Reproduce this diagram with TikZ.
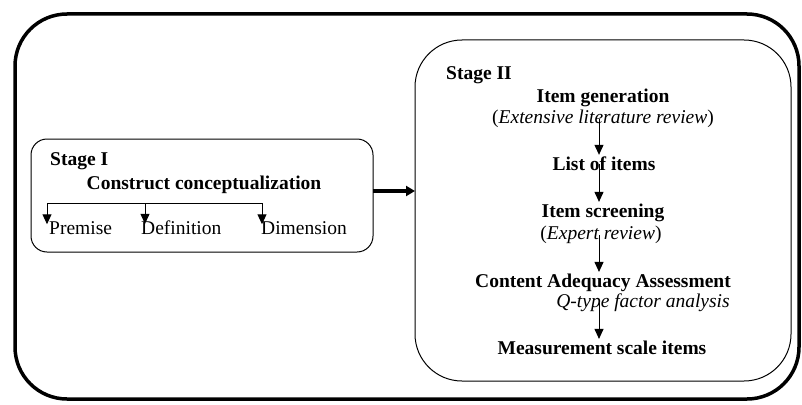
\documentclass[tikz,border=0pt]{standalone}
\usepackage{fontspec}
\setmainfont{Liberation Serif}
\usetikzlibrary{arrows.meta}

\tikzset{
  txt/.style={inner sep=0pt, font=\fontsize{19.5}{22}\selectfont},
  hd/.style={txt, font=\fontsize{19.5}{22}\selectfont\bfseries},
  sub/.style={txt, font=\fontsize{19.5}{22}\selectfont\itshape},
  flow/.style={line width=1pt, -{Triangle[width=9pt,length=10pt]}},
}

\begin{document}
\begin{tikzpicture}[x=1pt, y=-1pt]
\useasboundingbox (0,0) rectangle (802,404);
% frames
\draw[line width=3.5pt, rounded corners=52pt] (15,14) rectangle (799,399); % outer
\draw[line width=1pt, rounded corners=16pt] (31,139) rectangle (373,252); % stage one
\draw[line width=1pt, rounded corners=47pt] (415,40) rectangle (791,381); % stage two

% Stage I
\node[hd, anchor=west] (stageA) at (50,161) {Stage I};
\node[hd] (concept) at (204,185) {Construct conceptualization};
\node[txt, anchor=west] (premise) at (49,228) {Premise};
\node[txt, anchor=west] (defin) at (141,228) {Definition};
\node[txt, anchor=west] (dimen) at (261,228) {Dimension};
\coordinate (tipA) at ([xshift=-2pt,yshift=-3pt]premise.north west);
\coordinate (tipB) at ([xshift=4pt,yshift=-3pt]defin.north west);
\coordinate (tipC) at ([xshift=1pt,yshift=-3pt]dimen.north west);
\coordinate (brk) at (47,203);
\draw[line width=1pt] (brk) -- (brk -| tipC);
\draw[flow] (brk -| tipA) -- (tipA);
\draw[flow] (brk -| tipB) -- (tipB);
\draw[flow] (brk -| tipC) -- (tipC);

% Stage II
\node[hd, anchor=west] (stageB) at (446,75) {Stage II};
\node[hd] (gen) at (603,98) {Item generation};
\node[txt] (genSub) at (603,119) {(\textit{Extensive literature review})};
\node[hd] (list) at (604,164) {List of items};
\node[hd] (screen) at (603,213) {Item screening};
\node[txt] (screenSub) at (601,235) {(\textit{Expert review})};
\node[hd] (content) at (603,283) {Content Adequacy Assessment};
\node[sub] (contentSub) at (643,303) {Q-type factor analysis};
\node[hd] (measure) at (602,348) {Measurement scale items};

\coordinate (spine) at (599,0);
\draw[flow] (genSub.center -| spine) -- ([yshift=2pt]list.north -| spine);
\draw[flow] (list.center -| spine) -- ([yshift=2pt]screen.north -| spine);
\draw[flow] (screenSub.center -| spine) -- ([yshift=2pt]content.north -| spine);
\draw[flow] (contentSub.center -| spine) -- ([yshift=2pt]measure.north -| spine);

% stage link
\draw[line width=3.5pt, -{Triangle[width=10pt,length=9pt]}] (373,191) -- (415,191);
\end{tikzpicture}
\end{document}
